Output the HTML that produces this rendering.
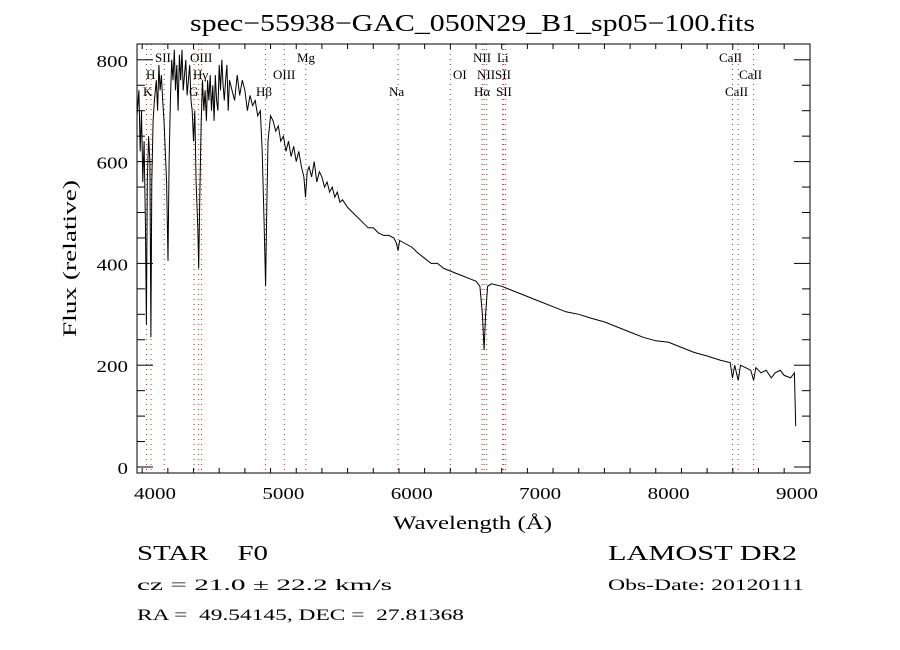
<!DOCTYPE html>
<html><head><meta charset="utf-8"><style>
html,body{margin:0;padding:0;background:#fff}
svg{display:block;font-family:"Liberation Serif",serif}
</style></head><body>
<svg id="c" width="900" height="650" viewBox="0 0 900 650">
<rect x="0" y="0" width="900" height="650" fill="#fff"/>
<text x="190" y="31" font-size="24" textLength="565" lengthAdjust="spacingAndGlyphs">spec−55938−GAC_050N29_B1_sp05−100.fits</text>
<g id="lines"></g>
<g id="axes"></g>
<path id="spec" fill="none" stroke="#000" stroke-width="1"/>
<rect x="137" y="44" width="673" height="429" fill="none" stroke="#000" stroke-width="1"/>
<text x="393" y="529" font-size="19" textLength="159" lengthAdjust="spacingAndGlyphs">Wavelength (Å)</text>
<text transform="translate(76,337) rotate(-90)" font-size="19" textLength="157" lengthAdjust="spacingAndGlyphs">Flux (relative)</text>
<text x="137" y="560" font-size="21" xml:space="preserve" textLength="131" lengthAdjust="spacingAndGlyphs">STAR    F0</text>
<text x="137" y="590" font-size="16" textLength="255" lengthAdjust="spacingAndGlyphs">cz = 21.0 ± 22.2 km/s</text>
<text x="137" y="620" font-size="16" xml:space="preserve" textLength="327" lengthAdjust="spacingAndGlyphs">RA =  49.54145, DEC =  27.81368</text>
<text x="608" y="560" font-size="21" textLength="189" lengthAdjust="spacingAndGlyphs">LAMOST DR2</text>
<text x="608" y="590" font-size="16" textLength="196" lengthAdjust="spacingAndGlyphs">Obs-Date: 20120111</text>
</svg>
<script>
const wl=[3860,3875,3885,3895,3905,3915,3925,3933,3940,3950,3960,3968,3975,3985,3995,4010,4020,4030,4040,4050,4060,4070,4080,4090,4101,4110,4120,4130,4140,4150,4160,4170,4180,4190,4200,4210,4220,4230,4240,4250,4260,4270,4280,4290,4300,4310,4320,4333,4340,4348,4360,4370,4380,4390,4400,4410,4420,4430,4440,4450,4460,4470,4480,4490,4500,4510,4520,4530,4540,4550,4560,4570,4580,4600,4620,4640,4660,4680,4700,4720,4740,4760,4780,4800,4820,4835,4850,4861,4870,4880,4900,4920,4940,4960,4980,5000,5020,5040,5060,5080,5100,5120,5140,5160,5172,5185,5200,5220,5240,5260,5280,5300,5320,5340,5360,5380,5400,5420,5440,5460,5500,5540,5580,5620,5660,5700,5740,5780,5820,5860,5880,5893,5905,5940,6000,6050,6100,6150,6200,6250,6300,6350,6400,6450,6500,6530,6550,6563,6575,6590,6620,6700,6800,6900,7000,7100,7200,7300,7400,7500,7600,7700,7800,7900,8000,8100,8200,8300,8400,8480,8498,8515,8542,8560,8600,8640,8662,8680,8720,8760,8800,8830,8870,8900,8950,8980,8990];
const flux=[690,740,620,700,560,640,480,280,560,650,600,255,560,680,720,760,700,790,740,770,720,680,620,560,405,600,720,800,760,820,740,790,700,810,760,820,740,770,800,730,760,790,720,700,640,700,560,470,390,520,680,760,700,740,680,760,720,770,700,750,680,770,720,700,790,740,800,750,720,760,790,700,760,740,720,770,730,760,740,700,730,710,720,690,700,620,480,355,500,640,690,680,660,670,640,650,620,640,610,630,600,620,590,570,530,580,590,570,600,560,580,570,550,560,540,550,530,540,520,525,510,500,490,480,470,470,460,455,455,450,440,425,445,440,432,420,410,400,400,390,385,380,375,370,365,355,300,230,300,355,360,355,345,335,325,315,305,300,292,285,275,265,255,248,245,235,225,218,210,205,175,200,170,200,195,190,170,195,185,190,175,185,190,180,175,185,80];
const xTicks=[4000,5000,6000,7000,8000,9000];
const yTicks=[0,200,400,600,800];
const lineWl=[3934,3969,4072,4304,4340,4363,4861,5007,5175,5893,6300,6548,6563,6583,6708,6716,6731,8498,8542,8662];
const lineLabels=[["K",143,96],["H",146,79],["SII",155,62],["G",189,96],["Hγ",193,79],["OIII",190,62],["Hβ",256,96],["OIII",273,79],["Mg",297,62],["Na",389,96],["OI",453,79],["NII",473,62],["Hα",474,96],["NIISII",477,79],["Li",497,62],["SII",496,96],["CaII",719,62],["CaII",739,79],["CaII",725,96]];
const X=w=>155+(w-4000)*0.1284;
const Y=f=>467-f*0.509;
const NS="http://www.w3.org/2000/svg";
function mk(tag,attrs,parent){const e=document.createElementNS(NS,tag);for(const k in attrs)e.setAttribute(k,attrs[k]);parent.appendChild(e);return e;}
const lines=document.getElementById('lines');
lineWl.forEach(w=>{
 const l=mk('line',{x1:X(w),x2:X(w),y1:44,y2:473,stroke:'#a33',"stroke-width":1,"stroke-dasharray":"1,4"},lines);
 
 
});
lineLabels.forEach(([t,x,y])=>{
 const e=mk('text',{x:x,y:y,"font-size":13},lines);e.textContent=t;
 
 
});
const ax=document.getElementById('axes');
for(let w=3900;w<=9000;w+=200){const x=X(w);if(x<137||x>810)continue;const maj=w%1000===0;const L=maj?9:5;
 mk('line',{x1:x,x2:x,y1:473,y2:473-L,stroke:'#000'},ax);mk('line',{x1:x,x2:x,y1:44,y2:44+L,stroke:'#000'},ax);}
xTicks.forEach(w=>{const t=mk('text',{x:X(w)-21,y:499,"font-size":17,textLength:42,lengthAdjust:"spacingAndGlyphs"},ax);t.textContent=w;
 
 });
for(let f=0;f<=800;f+=50){const y=Y(f);const maj=f%200===0;const L=maj?16:8;
 mk('line',{x1:137,x2:137+L,y1:y,y2:y,stroke:'#000'},ax);mk('line',{x1:810,x2:810-L,y1:y,y2:y,stroke:'#000'},ax);}
yTicks.forEach(f=>{const s=String(f);const w=s.length*10.5;const t=mk('text',{x:128-w,y:Y(f)+7,"font-size":17,textLength:w,lengthAdjust:"spacingAndGlyphs"},ax);t.textContent=s;
 
 });
let d='';wl.forEach((w,i)=>{d+=(i?'L':'M')+X(w).toFixed(1)+','+Y(flux[i]).toFixed(1);});
document.getElementById('spec').setAttribute('d',d);
</script>
</body></html>
